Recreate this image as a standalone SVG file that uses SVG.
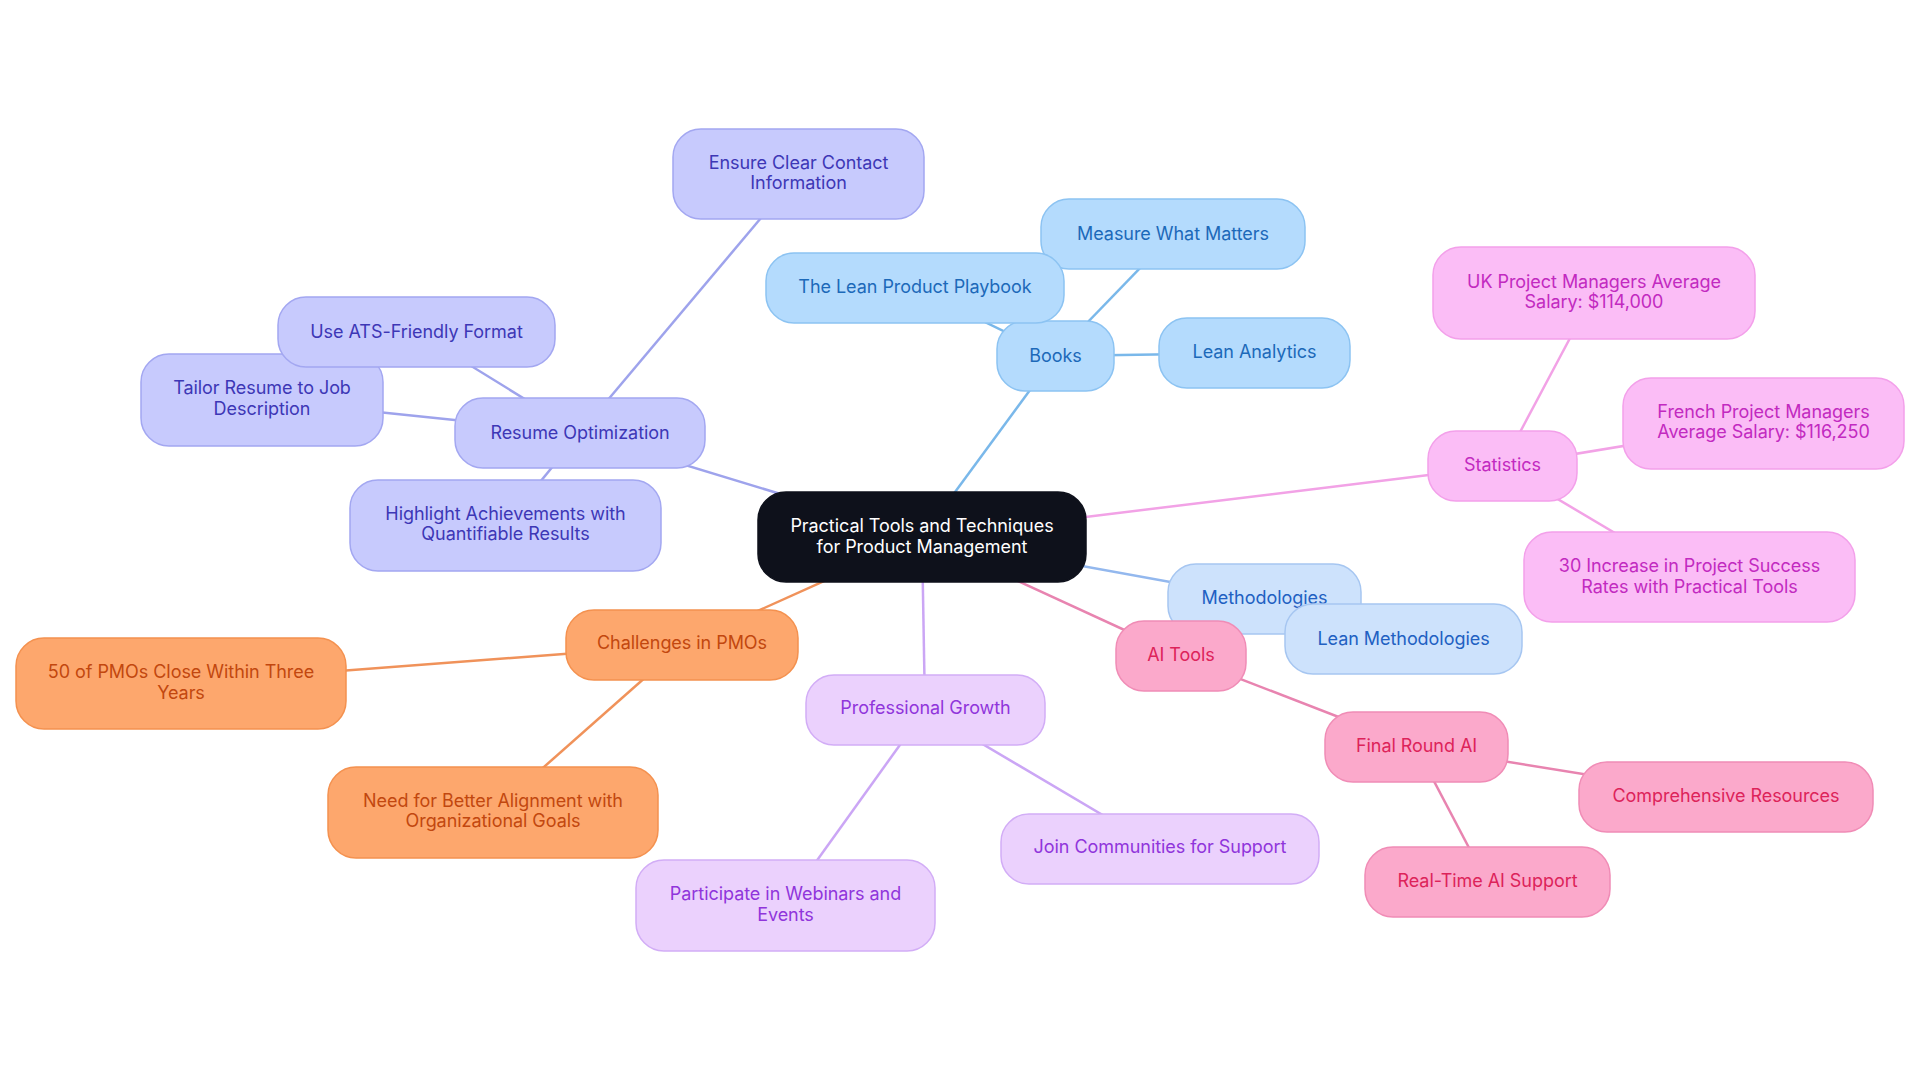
<svg xmlns="http://www.w3.org/2000/svg" width="1920" height="1083" viewBox="0 0 1920 1083">
<style>
text{font-family:Inter,"Noto Sans","Liberation Sans",sans-serif;font-size:18px;text-anchor:middle;letter-spacing:-0.05px}
rect{stroke-width:1.5}
.c line{stroke-width:2.5;fill:none}
.root rect{fill:#0e111b;stroke:#0e111b}
.root text{fill:#ffffff}
.ind rect{fill:#c7cafd;stroke:#a3a7f1}
.ind text{fill:#3d37b6}
.sky rect{fill:#b4dbfd;stroke:#8cc3f2}
.sky text{fill:#1c69b9}
.fus rect{fill:#fbbdf6;stroke:#f3a0ea}
.fus text{fill:#c22ac0}
.blu rect{fill:#cde2fc;stroke:#a6c6f1}
.blu text{fill:#2160c2}
.ros rect{fill:#fba9cb;stroke:#f08cb6}
.ros text{fill:#dd235a}
.org rect{fill:#fda76d;stroke:#f4914f}
.org text{fill:#c2470f}
.pur rect{fill:#ebd1fd;stroke:#d2adf6}
.pur text{fill:#9035db}
</style>
<rect x="0" y="0" width="1920" height="1083" fill="#ffffff" stroke="none"/>
<g id="connectors" class="c">
  <line x1="922" y1="537" x2="580" y2="433" stroke="#9ea3ec"/>
  <line x1="580" y1="433" x2="798" y2="174" stroke="#9ea3ec"/>
  <line x1="580" y1="433" x2="416" y2="332" stroke="#9ea3ec"/>
  <line x1="580" y1="433" x2="262" y2="400" stroke="#9ea3ec"/>
  <line x1="580" y1="433" x2="505" y2="525" stroke="#9ea3ec"/>
  <line x1="922" y1="537" x2="1055" y2="356" stroke="#7ab8ea"/>
  <line x1="1055" y1="356" x2="1173" y2="234" stroke="#7ab8ea"/>
  <line x1="1055" y1="356" x2="915" y2="288" stroke="#7ab8ea"/>
  <line x1="1055" y1="356" x2="1254" y2="353" stroke="#7ab8ea"/>
  <line x1="922" y1="537" x2="1502" y2="466" stroke="#f2a2e6"/>
  <line x1="1502" y1="466" x2="1594" y2="293" stroke="#f2a2e6"/>
  <line x1="1502" y1="466" x2="1763" y2="423" stroke="#f2a2e6"/>
  <line x1="1502" y1="466" x2="1689" y2="577" stroke="#f2a2e6"/>
  <line x1="922" y1="537" x2="1264" y2="599" stroke="#93b8ee"/>
  <line x1="1264" y1="599" x2="1403" y2="639" stroke="#93b8ee"/>
  <line x1="922" y1="537" x2="1181" y2="656" stroke="#e884b0"/>
  <line x1="1181" y1="656" x2="1416" y2="747" stroke="#e884b0"/>
  <line x1="1416" y1="747" x2="1726" y2="797" stroke="#e884b0"/>
  <line x1="1416" y1="747" x2="1487" y2="882" stroke="#e884b0"/>
  <line x1="922" y1="537" x2="682" y2="645" stroke="#f0925a"/>
  <line x1="682" y1="645" x2="181" y2="683" stroke="#f0925a"/>
  <line x1="682" y1="645" x2="493" y2="812" stroke="#f0925a"/>
  <line x1="922" y1="537" x2="925" y2="710" stroke="#cba6f5"/>
  <line x1="925" y1="710" x2="785" y2="905" stroke="#cba6f5"/>
  <line x1="925" y1="710" x2="1160" y2="849" stroke="#cba6f5"/>
</g>
<g id="root" class="root"><rect x="758" y="492" width="328" height="90" rx="28"/><text x="922" y="526" dy="0.35em">Practical Tools and Techniques</text><text x="922" y="547" dy="0.35em">for Product Management</text></g>
<g id="resume" class="ind"><rect x="455" y="398" width="250" height="70" rx="28"/><text x="580" y="433" dy="0.35em">Resume Optimization</text></g>
<g id="ensure" class="ind"><rect x="673" y="129" width="251" height="90" rx="28"/><text x="798.5" y="163" dy="0.35em">Ensure Clear Contact</text><text x="798.5" y="183" dy="0.35em">Information</text></g>
<g id="tailor" class="ind"><rect x="141" y="354" width="242" height="92" rx="28"/><text x="262" y="388" dy="0.35em">Tailor Resume to Job</text><text x="262" y="409" dy="0.35em">Description</text></g>
<g id="ats" class="ind"><rect x="278" y="297" width="277" height="70" rx="28"/><text x="416.5" y="332" dy="0.35em">Use ATS-Friendly Format</text></g>
<g id="highlight" class="ind"><rect x="350" y="480" width="311" height="91" rx="28"/><text x="505.5" y="514" dy="0.35em">Highlight Achievements with</text><text x="505.5" y="534" dy="0.35em">Quantifiable Results</text></g>
<g id="books" class="sky"><rect x="997" y="321" width="117" height="70" rx="28"/><text x="1055.5" y="356" dy="0.35em">Books</text></g>
<g id="measure" class="sky"><rect x="1041" y="199" width="264" height="70" rx="28"/><text x="1173" y="234" dy="0.35em">Measure What Matters</text></g>
<g id="playbook" class="sky"><rect x="766" y="253" width="298" height="70" rx="28"/><text x="915" y="287" dy="0.35em">The Lean Product Playbook</text></g>
<g id="analytics" class="sky"><rect x="1159" y="318" width="191" height="70" rx="28"/><text x="1254.5" y="352" dy="0.35em">Lean Analytics</text></g>
<g id="statistics" class="fus"><rect x="1428" y="431" width="149" height="70" rx="28"/><text x="1502.5" y="465" dy="0.35em">Statistics</text></g>
<g id="uk" class="fus"><rect x="1433" y="247" width="322" height="92" rx="28"/><text x="1594" y="282" dy="0.35em">UK Project Managers Average</text><text x="1594" y="302" dy="0.35em">Salary: $114,000</text></g>
<g id="french" class="fus"><rect x="1623" y="378" width="281" height="91" rx="28"/><text x="1763.5" y="412" dy="0.35em">French Project Managers</text><text x="1763.5" y="432" dy="0.35em">Average Salary: $116,250</text></g>
<g id="increase" class="fus"><rect x="1524" y="532" width="331" height="90" rx="28"/><text x="1689.5" y="566" dy="0.35em">30 Increase in Project Success</text><text x="1689.5" y="587" dy="0.35em">Rates with Practical Tools</text></g>
<g id="methodologies" class="blu"><rect x="1168" y="564" width="193" height="70" rx="28"/><text x="1264.5" y="598" dy="0.35em">Methodologies</text></g>
<g id="leanmeth" class="blu"><rect x="1285" y="604" width="237" height="70" rx="28"/><text x="1403.5" y="639" dy="0.35em">Lean Methodologies</text></g>
<g id="aitools" class="ros"><rect x="1116" y="621" width="130" height="70" rx="28"/><text x="1181" y="655" dy="0.35em">AI Tools</text></g>
<g id="finalround" class="ros"><rect x="1325" y="712" width="183" height="70" rx="28"/><text x="1416.5" y="746" dy="0.35em">Final Round AI</text></g>
<g id="comprehensive" class="ros"><rect x="1579" y="762" width="294" height="70" rx="28"/><text x="1726" y="796" dy="0.35em">Comprehensive Resources</text></g>
<g id="realtime" class="ros"><rect x="1365" y="847" width="245" height="70" rx="28"/><text x="1487.5" y="881" dy="0.35em">Real-Time AI Support</text></g>
<g id="challenges" class="org"><rect x="566" y="610" width="232" height="70" rx="28"/><text x="682" y="643" dy="0.35em">Challenges in PMOs</text></g>
<g id="pmos" class="org"><rect x="16" y="638" width="330" height="91" rx="28"/><text x="181" y="672" dy="0.35em">50 of PMOs Close Within Three</text><text x="181" y="693" dy="0.35em">Years</text></g>
<g id="alignment" class="org"><rect x="328" y="767" width="330" height="91" rx="28"/><text x="493" y="801" dy="0.35em">Need for Better Alignment with</text><text x="493" y="821" dy="0.35em">Organizational Goals</text></g>
<g id="growth" class="pur"><rect x="806" y="675" width="239" height="70" rx="28"/><text x="925.5" y="708" dy="0.35em">Professional Growth</text></g>
<g id="webinars" class="pur"><rect x="636" y="860" width="299" height="91" rx="28"/><text x="785.5" y="894" dy="0.35em">Participate in Webinars and</text><text x="785.5" y="915" dy="0.35em">Events</text></g>
<g id="communities" class="pur"><rect x="1001" y="814" width="318" height="70" rx="28"/><text x="1160" y="847" dy="0.35em">Join Communities for Support</text></g>
</svg>
